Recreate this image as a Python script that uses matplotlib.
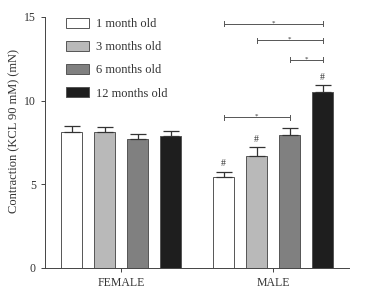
#! python
# contraction to KCL 90 mM, female vs male, by age group

import matplotlib
matplotlib.use("Agg")
import matplotlib.pyplot as plt
import numpy as np

groups = ["FEMALE", "MALE"]
ages = ["1 month old", "3 months old", "6 months old", "12 months old"]
colors = ["#ffffff", "#b9b9b9", "#808080", "#1e1e1e"]

# means and upper error, per age, [female, male]
means = [[8.1, 5.45],
         [8.1, 6.7],
         [7.7, 7.95],
         [7.9, 10.5]]
errs = [[0.4, 0.3],
        [0.3, 0.5],
        [0.3, 0.4],
        [0.3, 0.4]]

# significance brackets within males: (from age idx, to age idx, height)
brackets = [(0, 3, 14.6), (1, 3, 13.6), (2, 3, 12.45), (0, 2, 9.0)]
hash_marks = [0, 1, 3]  # male bars with '#'

plt.rcParams['font.family'] = ['Liberation Serif', 'DejaVu Serif']

fig = plt.figure(figsize=(3.69, 3.01), dpi=100)
ax = fig.add_axes([0.122, 0.11, 0.824, 0.834])

x = np.arange(len(groups))
step = 0.217
width = 0.14
for i in range(len(ages)):
    xpos = x + (i - 1.5) * step
    ax.bar(xpos, means[i], width, color=colors[i], edgecolor="#555555",
           linewidth=0.7, label=ages[i], zorder=2)
    ax.errorbar(xpos, means[i], yerr=[np.zeros(2), errs[i]], fmt="none",
                ecolor="#333333", elinewidth=0.9, capsize=5.5, capthick=0.9, zorder=3)

# '#' over male bars
for i in hash_marks:
    xp = x[1] + (i - 1.5) * step
    ax.text(xp, means[i][1] + errs[i][1] + 0.2, "#", ha="center", va="bottom",
            fontsize=7, color="#333333")

# brackets
for a, b, h in brackets:
    xa = x[1] + (a - 1.5) * step
    xb = x[1] + (b - 1.5) * step
    ax.plot([xa, xb], [h, h], color="#555555", lw=0.7)
    ax.plot([xa, xa], [h - 0.15, h + 0.15], color="#555555", lw=0.7)
    ax.plot([xb, xb], [h - 0.15, h + 0.15], color="#555555", lw=0.7)
    ax.text((xa + xb) / 2, h - 0.1, "*", ha="center", va="bottom",
            fontsize=5, color="#333333")

ax.set_xlim(-0.5, 1.5)
ax.set_ylim(0, 15)
ax.set_yticks([0, 5, 10, 15])
ax.set_xticks(x)
ax.set_xticklabels(groups)
ax.tick_params(labelsize=8.5, length=3, width=0.7, color="#444444", labelcolor="#333333")
for s in ["top", "right"]:
    ax.spines[s].set_visible(False)
for s in ["left", "bottom"]:
    ax.spines[s].set_linewidth(0.7)
    ax.spines[s].set_color("#444444")
ax.set_ylabel("Contraction (KCL 90 mM) (mN)", fontsize=9, color="#333333")
ax.yaxis.set_label_coords(-0.08, 0.546)

leg = ax.legend(loc="upper left", bbox_to_anchor=(0.069, 0.995), frameon=False,
                fontsize=9, handlelength=1.85, handleheight=0.8,
                labelspacing=0.88, handletextpad=0.55,
                borderpad=0, borderaxespad=0)
for t in leg.get_texts():
    t.set_color("#333333")

fig.savefig("out.png", dpi=100)
